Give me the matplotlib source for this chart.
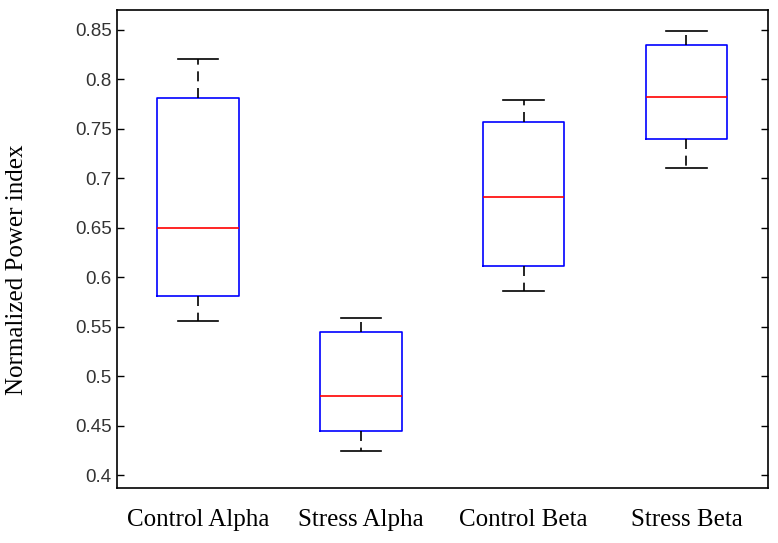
import matplotlib.pyplot as plt

categories = ["Control Alpha", "Stress Alpha", "Control Beta", "Stress Beta"]
whisker_low = [0.556, 0.424, 0.586, 0.710]
q1 = [0.581, 0.445, 0.611, 0.740]
median = [0.650, 0.480, 0.681, 0.782]
q3 = [0.781, 0.545, 0.757, 0.835]
whisker_high = [0.820, 0.559, 0.779, 0.849]
yticks = [0.4, 0.45, 0.5, 0.55, 0.6, 0.65, 0.7, 0.75, 0.8, 0.85]

stats = [
    dict(whislo=lo, q1=a, med=m, q3=b, whishi=hi, fliers=[], label=c)
    for c, lo, a, m, b, hi in zip(categories, whisker_low, q1, median, q3, whisker_high)
]

fig = plt.figure(figsize=(7.78, 5.43), dpi=100)
ax = fig.add_axes([0.150, 0.1013, 0.837, 0.8803])

ax.bxp(
    stats,
    positions=[1, 2, 3, 4],
    widths=0.5,
    capwidths=0.25,
    showfliers=False,
    boxprops=dict(color="#0000ff", linewidth=1.2),
    medianprops=dict(color="#ff0000", linewidth=1.2),
    whiskerprops=dict(color="black", linewidth=1.2, linestyle=(0, (6, 4))),
    capprops=dict(color="black", linewidth=1.2),
)

ax.set_xlim(0.5, 4.5)
ax.set_ylim(0.387, 0.870)
ax.set_yticks(yticks)
ax.set_yticklabels([f"{v:g}" for v in yticks], family="Liberation Sans", fontsize=13.5, color="#333333")
ax.set_xticks([1, 2, 3, 4])
ax.set_xticklabels(categories, family="Liberation Serif", fontsize=18)
ax.tick_params(axis="x", length=0, pad=15)
ax.tick_params(axis="y", direction="in", length=5, right=True, width=1)

for s in ax.spines.values():
    s.set_linewidth(1.2)

ax.set_ylabel("Normalized Power index", family="Liberation Serif", fontsize=18)
ax.yaxis.set_label_coords(-0.136, 0.456)

fig.savefig("out.png", dpi=100)
